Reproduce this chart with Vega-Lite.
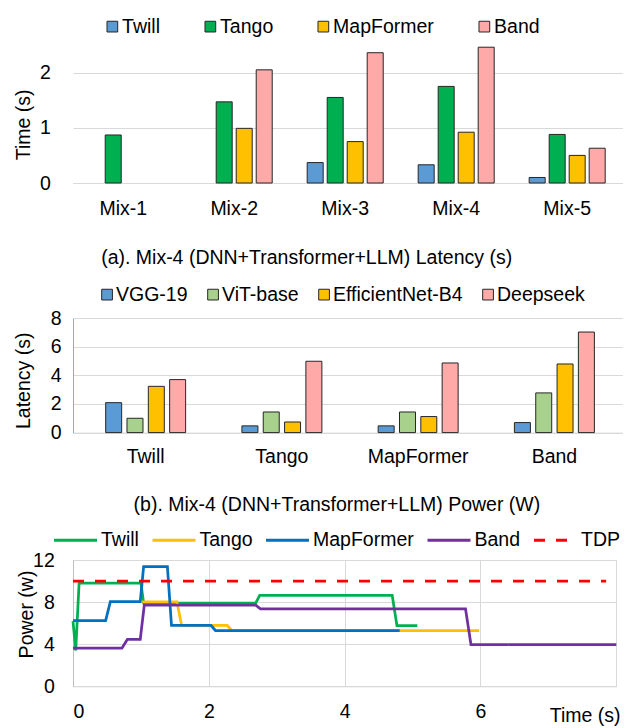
{
  "$schema": "https://vega.github.io/schema/vega-lite/v6.json",
  "background": "white",
  "padding": {"left": 12, "top": 16, "right": 5, "bottom": 2},
  "config": {
    "font": "Liberation Sans",
    "view": {"stroke": null},
    "axis": {
      "labelFont": "Liberation Sans", "labelFontSize": 19.5, "labelColor": "#000000",
      "titleFont": "Liberation Sans", "titleFontSize": 19.5, "titleFontWeight": "normal", "titleColor": "#000000",
      "gridColor": "#D9D9D9", "gridWidth": 1, "ticks": false, "tickSize": 0, "domain": false
    },
    "legend": {
      "labelFont": "Liberation Sans", "labelFontSize": 19.5, "labelColor": "#000000", "labelLimit": 300, "padding": 0
    },
    "title": {"font": "Liberation Sans", "fontSize": 19.5, "fontWeight": "normal", "color": "#000000"}
  },
  "spacing": 30,
  "resolve": {"scale": {"color": "independent", "strokeDash": "independent", "x": "independent", "y": "independent", "xOffset": "independent"}, "legend": {"color": "independent", "strokeDash": "independent"}},
  "vconcat": [
    {
      "width": 549.3,
      "height": 138,
      "data": {"values": [
        {"mix": "Mix-1", "method": "Tango", "time": 0.87},
        {"mix": "Mix-2", "method": "Tango", "time": 1.47},
        {"mix": "Mix-2", "method": "MapFormer", "time": 0.99},
        {"mix": "Mix-2", "method": "Band", "time": 2.05},
        {"mix": "Mix-3", "method": "Twill", "time": 0.37},
        {"mix": "Mix-3", "method": "Tango", "time": 1.55},
        {"mix": "Mix-3", "method": "MapFormer", "time": 0.75},
        {"mix": "Mix-3", "method": "Band", "time": 2.36},
        {"mix": "Mix-4", "method": "Twill", "time": 0.33},
        {"mix": "Mix-4", "method": "Tango", "time": 1.75},
        {"mix": "Mix-4", "method": "MapFormer", "time": 0.92},
        {"mix": "Mix-4", "method": "Band", "time": 2.46},
        {"mix": "Mix-5", "method": "Twill", "time": 0.1},
        {"mix": "Mix-5", "method": "Tango", "time": 0.88},
        {"mix": "Mix-5", "method": "MapFormer", "time": 0.5},
        {"mix": "Mix-5", "method": "Band", "time": 0.63}
      ]},
      "mark": {"type": "bar", "stroke": "#262626", "strokeWidth": 1},
      "encoding": {
        "x": {"field": "mix", "type": "nominal",
          "scale": {"domain": ["Mix-1", "Mix-2", "Mix-3", "Mix-4", "Mix-5"], "paddingInner": 0.279, "paddingOuter": 0.114, "align": 0.403},
          "axis": {"title": null, "labelAngle": 0, "labelPadding": 16, "domain": true, "domainColor": "#D9D9D9"}},
        "xOffset": {"field": "method", "type": "nominal",
          "scale": {"domain": ["Twill", "Tango", "MapFormer", "Band"], "paddingInner": 0.2, "paddingOuter": 0.1}},
        "y": {"field": "time", "type": "quantitative",
          "scale": {"domain": [0, 2.5], "nice": false},
          "axis": {"values": [0, 1, 2], "title": "Time (s)", "titleX": -50, "titleY": 79.3, "titleBaseline": "middle", "labelPadding": 22.7, "grid": true}},
        "color": {"field": "method", "type": "nominal",
          "scale": {"domain": ["Twill", "Tango", "MapFormer", "Band"], "range": ["#5B9BD5", "#00B050", "#FFC000", "#FFA9A9"]},
          "legend": {"orient": "none", "legendX": 29.6, "legendY": -28.5, "direction": "horizontal", "columns": 4, "columnPadding": 40, "title": null,
            "symbolType": "square", "symbolSize": 115, "labelOffset": 0, "symbolStrokeColor": "#262626", "symbolStrokeWidth": 1}}
      }
    },
    {
      "spacing": 28,
      "resolve": {"scale": {"color": "independent", "strokeDash": "independent", "x": "independent", "y": "independent", "xOffset": "independent"}, "legend": {"color": "independent", "strokeDash": "independent"}},
      "vconcat": [
        {
          "width": 549.3,
          "height": 114.6,
          "title": {"text": "(a). Mix-4 (DNN+Transformer+LLM) Latency (s)", "anchor": "middle", "frame": "group", "dx": -41, "offset": 16},
          "data": {"values": [
            {"method": "Twill", "model": "VGG-19", "latency": 2.09},
            {"method": "Twill", "model": "ViT-base", "latency": 1.0},
            {"method": "Twill", "model": "EfficientNet-B4", "latency": 3.23},
            {"method": "Twill", "model": "Deepseek", "latency": 3.7},
            {"method": "Tango", "model": "VGG-19", "latency": 0.47},
            {"method": "Tango", "model": "ViT-base", "latency": 1.44},
            {"method": "Tango", "model": "EfficientNet-B4", "latency": 0.74},
            {"method": "Tango", "model": "Deepseek", "latency": 4.98},
            {"method": "MapFormer", "model": "VGG-19", "latency": 0.47},
            {"method": "MapFormer", "model": "ViT-base", "latency": 1.44},
            {"method": "MapFormer", "model": "EfficientNet-B4", "latency": 1.12},
            {"method": "MapFormer", "model": "Deepseek", "latency": 4.86},
            {"method": "Band", "model": "VGG-19", "latency": 0.7},
            {"method": "Band", "model": "ViT-base", "latency": 2.77},
            {"method": "Band", "model": "EfficientNet-B4", "latency": 4.79},
            {"method": "Band", "model": "Deepseek", "latency": 7.02}
          ]},
          "mark": {"type": "bar", "stroke": "#262626", "strokeWidth": 1},
          "encoding": {
            "x": {"field": "method", "type": "nominal",
              "scale": {"domain": ["Twill", "Tango", "MapFormer", "Band"], "paddingInner": 0.374, "paddingOuter": 0.2028, "align": 0.543},
              "axis": {"title": null, "labelAngle": 0, "labelPadding": 14.6, "domain": true, "domainColor": "#D9D9D9"}},
            "xOffset": {"field": "model", "type": "nominal",
              "scale": {"domain": ["VGG-19", "ViT-base", "EfficientNet-B4", "Deepseek"], "paddingInner": 0.25, "paddingOuter": 0.125}},
            "y": {"field": "latency", "type": "quantitative",
              "scale": {"domain": [0, 8], "nice": false},
              "axis": {"values": [0, 2, 4, 6, 8], "title": "Latency (s)", "titleX": -50, "titleY": 62.3, "titleBaseline": "middle", "labelPadding": 12, "grid": true, "domain": true, "domainColor": "#7DB0E0"}},
            "color": {"field": "model", "type": "nominal",
              "scale": {"domain": ["VGG-19", "ViT-base", "EfficientNet-B4", "Deepseek"], "range": ["#5B9BD5", "#A9D18E", "#FFC000", "#FFA9A9"]},
              "legend": {"orient": "none", "legendX": 24.3, "legendY": -33.5, "direction": "horizontal", "columns": 4, "columnPadding": 15, "title": null,
                "symbolType": "square", "symbolSize": 115, "labelOffset": -0.8, "symbolStrokeColor": "#262626", "symbolStrokeWidth": 1}}
          }
        },
        {
          "width": 543.3,
          "height": 126.3,
          "title": {"text": "(b). Mix-4 (DNN+Transformer+LLM) Power (W)", "anchor": "middle", "frame": "group", "dx": -7.75, "offset": 1.7},
          "data": {"values": [
            {"series": "Twill", "t": 0, "p": 6.2},
            {"series": "Twill", "t": 0.04, "p": 3.4},
            {"series": "Twill", "t": 0.09, "p": 9.8},
            {"series": "Twill", "t": 1.0, "p": 9.8},
            {"series": "Twill", "t": 1.04, "p": 7.9},
            {"series": "Twill", "t": 2.69, "p": 7.9},
            {"series": "Twill", "t": 2.75, "p": 8.65},
            {"series": "Twill", "t": 4.7, "p": 8.65},
            {"series": "Twill", "t": 4.77, "p": 5.76},
            {"series": "Twill", "t": 5.07, "p": 5.76},
            {"series": "Tango", "t": 1.02, "p": 8.02},
            {"series": "Tango", "t": 1.53, "p": 8.02},
            {"series": "Tango", "t": 1.6, "p": 5.78},
            {"series": "Tango", "t": 2.27, "p": 5.78},
            {"series": "Tango", "t": 2.34, "p": 5.3},
            {"series": "Tango", "t": 5.98, "p": 5.3},
            {"series": "MapFormer", "t": 0, "p": 6.23},
            {"series": "MapFormer", "t": 0.48, "p": 6.23},
            {"series": "MapFormer", "t": 0.55, "p": 8.04},
            {"series": "MapFormer", "t": 0.99, "p": 8.04},
            {"series": "MapFormer", "t": 1.04, "p": 11.36},
            {"series": "MapFormer", "t": 1.39, "p": 11.36},
            {"series": "MapFormer", "t": 1.45, "p": 5.8},
            {"series": "MapFormer", "t": 2.03, "p": 5.8},
            {"series": "MapFormer", "t": 2.1, "p": 5.28},
            {"series": "MapFormer", "t": 4.81, "p": 5.28},
            {"series": "Band", "t": 0, "p": 3.62},
            {"series": "Band", "t": 0.72, "p": 3.62},
            {"series": "Band", "t": 0.8, "p": 4.45},
            {"series": "Band", "t": 0.99, "p": 4.45},
            {"series": "Band", "t": 1.05, "p": 7.72},
            {"series": "Band", "t": 2.69, "p": 7.72},
            {"series": "Band", "t": 2.76, "p": 7.35},
            {"series": "Band", "t": 5.78, "p": 7.35},
            {"series": "Band", "t": 5.86, "p": 3.97},
            {"series": "Band", "t": 8.0, "p": 3.97},
            {"series": "TDP", "t": 0, "p": 10},
            {"series": "TDP", "t": 7.85, "p": 10}
          ]},
          "mark": {"type": "line", "strokeWidth": 2.75},
          "encoding": {
            "x": {"field": "t", "type": "quantitative",
              "scale": {"domain": [0, 8], "nice": false},
              "axis": {"values": [0, 2, 4, 6, 8], "grid": true, "labelExpr": "datum.value == 8 ? '' : datum.label", "labelPadding": 16.3,
                "title": "Time (s)", "titleAlign": "right", "titleX": 547, "titleY": 35.5, "titleBaseline": "alphabetic", "domain": true, "domainColor": "#D9D9D9"}},
            "y": {"field": "p", "type": "quantitative",
              "scale": {"domain": [0, 12], "nice": false},
              "axis": {"values": [0, 4, 8, 12], "grid": true, "title": "Power (w)", "titleX": -47, "titleY": 54, "titleBaseline": "middle", "labelPadding": 18.7, "domain": true, "domainColor": "#BFBFBF"}},
            "color": {"field": "series", "type": "nominal",
              "scale": {"domain": ["Twill", "Tango", "MapFormer", "Band", "TDP"], "range": ["#00B050", "#FFC000", "#0070C0", "#7030A0", "#FF0000"]},
              "legend": {"orient": "none", "legendX": -20.5, "legendY": -43, "direction": "horizontal", "columns": 5, "columnPadding": 6.5, "title": null,
                "symbolType": "stroke", "symbolSize": 1849, "symbolStrokeWidth": 3, "labelOffset": 2.5}},
            "strokeDash": {"field": "series", "type": "nominal",
              "scale": {"domain": ["Twill", "Tango", "MapFormer", "Band", "TDP"], "range": [[1, 0], [1, 0], [1, 0], [1, 0], [11, 11]]},
              "legend": {"orient": "none", "legendX": -20.5, "legendY": -43, "direction": "horizontal", "columns": 5, "columnPadding": 6.5, "title": null,
                "symbolType": "stroke", "symbolSize": 1849, "symbolStrokeWidth": 3, "labelOffset": 2.5}}
          }
        }
      ]
    }
  ]
}
